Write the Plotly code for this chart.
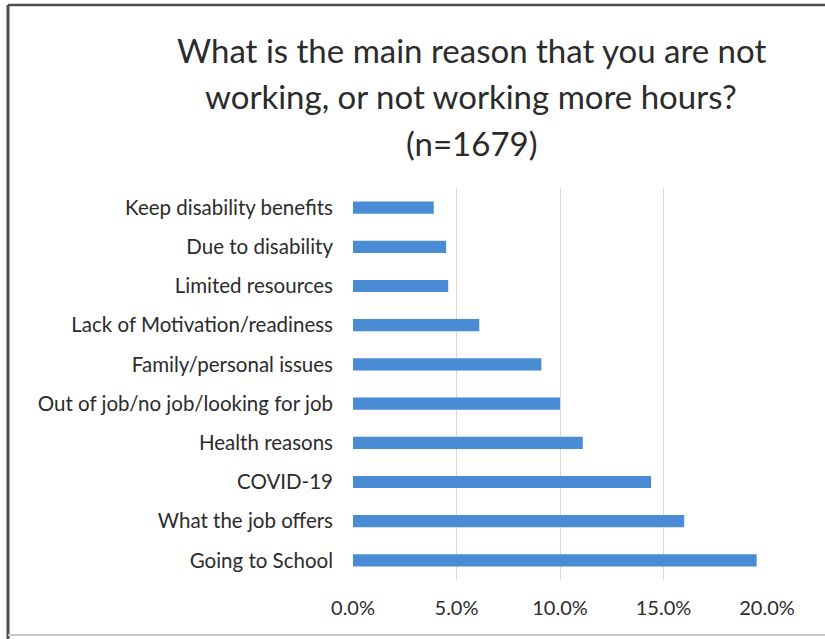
import plotly.graph_objects as go

categories = [
    "Keep disability benefits",
    "Due to disability",
    "Limited resources",
    "Lack of Motivation/readiness",
    "Family/personal issues",
    "Out of job/no job/looking for job",
    "Health reasons",
    "COVID-19",
    "What the job offers",
    "Going to School",
]
values = [0.039, 0.045, 0.046, 0.061, 0.091, 0.100, 0.111, 0.144, 0.160, 0.195]
x_ticks = [0.0, 0.05, 0.10, 0.15, 0.20]
x_tick_labels = ["0.0%", "5.0%", "10.0%", "15.0%", "20.0%"]
title_lines = [
    "What is the main reason that you are not",
    "working, or not working more hours?",
    "(n=1679)",
]

FONT = "Lato, Open Sans, sans-serif"

fig = go.Figure(
    go.Bar(
        x=values,
        y=categories,
        orientation="h",
        marker=dict(color="#4a8bd6", line=dict(width=0)),
        width=0.31,
    )
)

W, H = 825, 639
L, R, T, B = 353, 58, 188, 59
pw = W - L - R
ph = H - T - B

def px_x(p):
    return (p - L) / pw

def px_y(p):
    return (H - B - p) / ph

title_centers = [50, 96, 143]
annotations = [
    dict(
        text=line,
        xref="paper",
        yref="paper",
        x=px_x(471),
        y=px_y(cy),
        xanchor="center",
        yanchor="middle",
        showarrow=False,
        font=dict(size=33, color="#2b2b2b", family=FONT),
    )
    for line, cy in zip(title_lines, title_centers)
]

def hline(x0, x1, y, color, w):
    return dict(type="line", xref="paper", yref="paper",
                x0=px_x(x0), x1=px_x(x1), y0=px_y(y), y1=px_y(y),
                line=dict(color=color, width=w), layer="above")

def vline(x, y0, y1, color, w):
    return dict(type="line", xref="paper", yref="paper",
                x0=px_x(x), x1=px_x(x), y0=px_y(y0), y1=px_y(y1),
                line=dict(color=color, width=w), layer="above")

fig.update_layout(
    width=W,
    height=H,
    margin=dict(l=L, r=R, t=T, b=B),
    paper_bgcolor="white",
    plot_bgcolor="white",
    showlegend=False,
    font=dict(family=FONT, color="#2b2b2b", size=20),
    xaxis=dict(
        range=[0, 0.2],
        tickvals=x_ticks,
        ticktext=x_tick_labels,
        showgrid=True,
        gridcolor="#d9d9d9",
        gridwidth=1,
        zeroline=False,
        showline=False,
        ticks="",
        tickfont=dict(size=20, color="#2b2b2b", family=FONT),
        ticklabelstandoff=14,
    ),
    yaxis=dict(
        autorange="reversed",
        showgrid=False,
        zeroline=False,
        showline=False,
        ticks="",
        tickfont=dict(size=20.5, color="#2b2b2b", family=FONT),
        ticklabelstandoff=19,
    ),
    annotations=annotations,
    shapes=[
        hline(8, 825, 5, "#4d4d4d", 2.5),
        vline(8, 5, 639, "#4d4d4d", 3),
        hline(8, 825, 635, "#c8c8c8", 2),
    ],
)

fig.write_html(
    "out.html",
    config={"displayModeBar": False},
    post_script="document.body.style.margin='0';",
)
